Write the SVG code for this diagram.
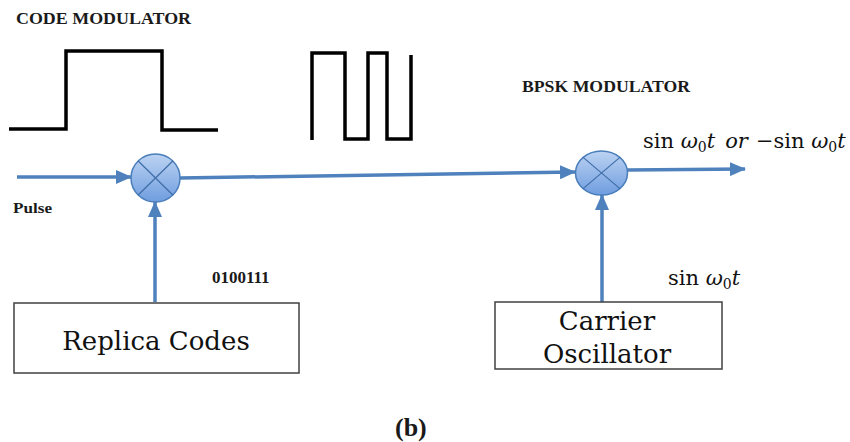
<svg xmlns="http://www.w3.org/2000/svg" width="850" height="442" viewBox="0 0 850 442">
<style>
.bold{font-family:"Liberation Serif","Times New Roman",serif;font-weight:bold;fill:#1a1a1a}
.body{font-family:"DejaVu Serif",serif;fill:#111}
.math{font-family:"DejaVu Serif",serif;fill:#111}
.it{font-style:italic}
.wave{fill:none;stroke:#000;stroke-width:3.5;stroke-linejoin:miter}
.conn{fill:none;stroke:#4f81bd;stroke-width:3.5}
.box{fill:#fff;stroke:#404040;stroke-width:1.5}
.mix{fill:url(#g);stroke:#4a7ebb;stroke-width:1.5}
.cross{stroke:#3f6ea8;stroke-width:1.2}
</style>
<defs>
<linearGradient id="g" x1="0" y1="0" x2="0" y2="1">
<stop offset="0" stop-color="#bcd3f2"/>
<stop offset="1" stop-color="#6f9ddf"/>
</linearGradient>
<marker id="ah" markerUnits="userSpaceOnUse" markerWidth="16" markerHeight="14" refX="15" refY="7" orient="auto">
<path d="M0,0 L16,7 L0,14 Z" fill="#4f81bd"/>
</marker>
</defs>
<rect width="850" height="442" fill="#fff"/>

<text class="bold" x="16" y="24" font-size="17" textLength="175" lengthAdjust="spacingAndGlyphs">CODE MODULATOR</text>
<text class="bold" x="522" y="92" font-size="17" textLength="168" lengthAdjust="spacingAndGlyphs">BPSK MODULATOR</text>
<text class="bold" x="13" y="213" font-size="15" textLength="39" lengthAdjust="spacingAndGlyphs">Pulse</text>
<text class="bold" x="212" y="283" font-size="17">0100111</text>
<text class="bold" x="395" y="436" font-size="26">(b)</text>

<path class="wave" d="M9,129 H66 V51 H162 V130 H218"/>
<path class="wave" d="M312,140 V53 H345 V139 H368 V53 H387 V139 H411 V55"/>

<g id="connectors">
<path class="conn" d="M17,177 L131,177" marker-end="url(#ah)"/>
<path class="conn" d="M180,178 L575,172" marker-end="url(#ah)"/>
<path class="conn" d="M627,170 L745,169" marker-end="url(#ah)"/>
<path class="conn" d="M155,302 L155,202" marker-end="url(#ah)"/>
<path class="conn" d="M602,302 L602,195" marker-end="url(#ah)"/>
</g>

<g id="mixer1">
<ellipse class="mix" cx="155.5" cy="178" rx="24.5" ry="24"/>
<path class="cross" d="M138.2,161 L172.8,195 M172.8,161 L138.2,195"/>
</g>
<g id="mixer2">
<ellipse class="mix" cx="601.5" cy="173" rx="26" ry="22"/>
<path class="cross" d="M583.1,157.4 L619.9,188.6 M619.9,157.4 L583.1,188.6"/>
</g>

<g id="replica">
<rect class="box" x="14" y="303" width="285" height="70"/>
<text class="body" x="156" y="350" font-size="26" text-anchor="middle">Replica Codes</text>
</g>
<g id="carrier">
<rect class="box" x="495" y="302" width="227" height="67"/>
<text class="body" x="607" y="330" font-size="26" text-anchor="middle">Carrier</text>
<text class="body" x="607" y="363" font-size="26" text-anchor="middle">Oscillator</text>
</g>

<text class="math" x="643" y="148" font-size="21">sin <tspan class="it">ω</tspan><tspan font-size="14" dy="4">0</tspan><tspan class="it" dy="-4">t</tspan><tspan class="it" dx="10">or</tspan><tspan dx="8">−sin </tspan><tspan class="it">ω</tspan><tspan font-size="14" dy="4">0</tspan><tspan class="it" dy="-4">t</tspan></text>
<text class="math" x="668" y="285" font-size="21">sin <tspan class="it">ω</tspan><tspan font-size="14" dy="4">0</tspan><tspan class="it" dy="-4">t</tspan></text>
</svg>
